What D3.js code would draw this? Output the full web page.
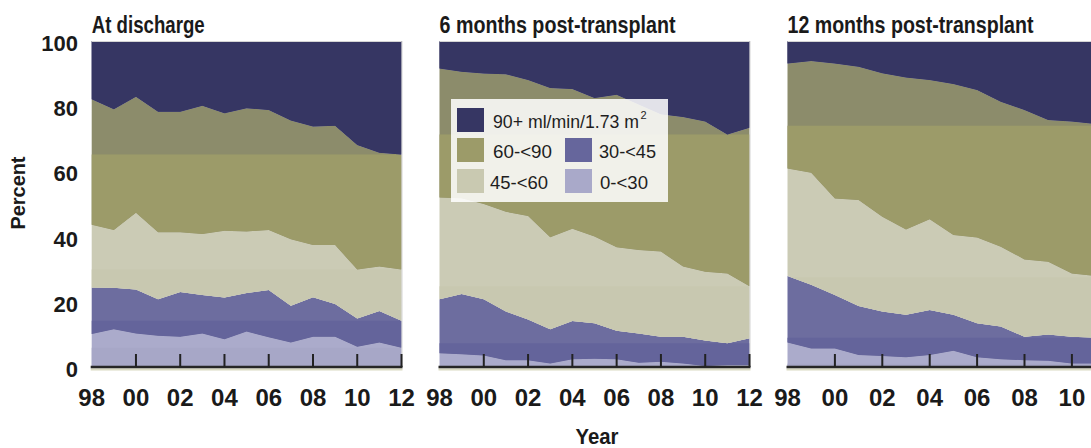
<!DOCTYPE html>
<html><head><meta charset="utf-8">
<script src="https://cdn.jsdelivr.net/npm/d3@7"></script>
<style>body{margin:0;background:#fff;overflow:hidden}svg{display:block}</style>
</head><body>
<svg id="c" width="1091" height="448"></svg>
<script>
// ---- data ----
const years = ['98','99','00','01','02','03','04','05','06','07','08','09','10','11','12'];
const tickYears = ['00','02','04','06','08','10','12'];
const labelYears = ['98','00','02','04','06','08','10','12'];
const yTicks = [0,20,40,60,80,100];
const seriesNames = ['0-<30','30-<45','45-<60','60-<90','90+'];
const panelTitles = ['At discharge','6 months post-transplant','12 months post-transplant'];

// At discharge (percent in each eGFR group)
const dis_0_30  = [10.1,11.6,10.3,9.6,9.3,10.3,8.5,10.9,9.1,7.5,9.3,9.3,6.2,7.5,5.9];
const dis_30_45 = [14.3,12.7,13.5,11.2,13.7,11.8,12.8,11.8,14.5,11.3,12.1,10.0,8.7,9.7,8.3];
const dis_45_60 = [19.2,17.7,23.5,20.5,18.3,18.7,20.5,18.9,18.4,20.4,16.0,18.1,15.0,13.6,15.7];
const dis_60_90 = [38.5,37.1,35.6,37.0,37.0,39.3,36.0,37.8,36.8,36.4,36.4,36.6,38.2,34.9,35.3];
const dis_90    = [17.9,20.9,17.1,21.7,21.7,19.9,22.2,20.6,21.2,24.4,26.2,26.0,31.9,34.3,34.8];

// 6 months post-transplant
const m6_0_30  = [4.2,3.9,3.5,2.1,2.1,1.1,2.4,2.5,2.4,1.3,1.6,1.1,0.3,0.6,0.6];
const m6_30_45 = [16.6,18.5,17.3,14.9,12.5,10.5,11.7,10.9,8.7,9.0,7.7,8.2,7.8,6.7,8.2];
const m6_45_60 = [31.2,29.4,29.2,30.6,31.7,28.2,28.3,26.6,25.6,25.6,26.1,21.5,21.1,21.4,16.0];
const m6_60_90 = [39.6,38.8,40.0,42.2,41.7,45.8,42.9,42.5,46.8,44.6,42.1,45.9,46.1,42.6,48.6];
const m6_90    = [8.4,9.4,10.0,10.2,12.0,14.4,14.7,17.5,16.5,19.5,22.5,23.3,24.7,28.7,26.6];

// 12 months post-transplant
const m12_0_30  = [7.5,5.7,5.7,3.7,3.4,3.0,3.7,5.0,3.0,2.4,2.1,1.9,1.1,1.1,1.0];
const m12_30_45 = [20.4,19.5,16.4,15.0,13.6,13.0,13.8,11.0,10.4,10.0,7.2,8.1,8.2,7.9,8.0];
const m12_45_60 = [33.0,34.4,29.6,32.5,29.1,26.2,27.8,24.5,26.3,24.5,23.7,22.3,19.4,18.9,18.5];
const m12_60_90 = [32.2,34.3,41.4,40.9,44.0,46.6,42.7,46.3,45.3,44.5,45.8,43.5,46.6,46.6,46.5];
const m12_90    = [6.9,6.1,6.9,7.9,9.9,11.2,12.0,13.2,15.0,18.6,21.2,24.2,24.7,25.5,26.0];

const panelSeries = [
  [dis_0_30, dis_30_45, dis_45_60, dis_60_90, dis_90],
  [m6_0_30, m6_30_45, m6_45_60, m6_60_90, m6_90],
  [m12_0_30, m12_30_45, m12_45_60, m12_60_90, m12_90]
];

// ---- styles / layout ----
const colUpper = ['#ababcb','#6d6d9f','#cbcbb5','#8c8c6b','#363663'];
const colLower = ['#a7a7c7','#64649b','#c8c8b0','#9c9b69','#363663'];
const legendColors = ['#a9a9c9','#66669c','#c9c9b1','#9c9b69','#363663'];
const panelX = [[91.7,401.5],[439.5,749.5],[787.5,1119.3]];
const titleLen = [113,236,246];
const W = 1091;
const Y0 = 367, Y100 = 41;
const boldFont = "'Liberation Sans', Arial, sans-serif";
const narrowFont = "'Liberation Sans Narrow','Arial Narrow','Liberation Sans',Arial,sans-serif";

const svg = d3.select('#c');
const y = d3.scaleLinear().domain([0,100]).range([Y0,Y100]);
const defs = svg.append('defs');

panelSeries.forEach((ser, p) => {
  const [x0, x1] = panelX[p];
  const x = d3.scalePoint().domain(years).range([x0, x1]).padding(0);
  const rows = years.map((yr, i) => {
    const r = {year: yr};
    seriesNames.forEach((s, k) => r[s] = ser[k][i]);
    return r;
  });
  const stacked = d3.stack().keys(seriesNames)(rows);
  const area = d3.area().x(d => x(d.data.year)).y0(d => y(d[0])).y1(d => y(d[1]));
  const g = svg.append('g');
  stacked.forEach((layer, k) => {
    const minTop = d3.min(layer, d => d[1]);
    const id = `clip-${p}-${k}`;
    defs.append('clipPath').attr('id', id).append('rect')
      .attr('x', x0 - 1).attr('y', y(minTop)).attr('width', x1 - x0 + 2).attr('height', y(0) - y(minTop) + 1);
    g.append('path').datum(layer).attr('d', area).attr('fill', colUpper[k]);
    g.append('path').datum(layer).attr('d', area).attr('fill', colLower[k]).attr('clip-path', `url(#${id})`);
  });
  // faint frame top & right
  g.append('line').attr('x1', x0).attr('x2', x1).attr('y1', Y100 + 0.5).attr('y2', Y100 + 0.5)
    .attr('stroke', '#d4d4d4').attr('stroke-width', 1);
  g.append('line').attr('x1', x1 + 0.5).attr('x2', x1 + 0.5).attr('y1', Y100).attr('y2', Y0)
    .attr('stroke', '#d4d4d4').attr('stroke-width', 1);
  // baseline
  g.append('line').attr('x1', x0 - 1).attr('x2', x1 + 1).attr('y1', Y0 + 2.3).attr('y2', Y0 + 2.3)
    .attr('stroke', '#d9d9c2').attr('stroke-width', 2.2);
  g.append('line').attr('x1', x0 - 1).attr('x2', x1 + 1).attr('y1', Y0).attr('y2', Y0)
    .attr('stroke', '#262626').attr('stroke-width', 2.4);
  // ticks (upward)
  g.selectAll('line.tk').data(tickYears).enter().append('line').attr('class', 'tk')
    .attr('x1', d => x(d)).attr('x2', d => x(d)).attr('y1', Y0).attr('y2', Y0 - 13)
    .attr('stroke', '#222').attr('stroke-width', 2);
  // tick labels (only those inside the visible page)
  g.selectAll('text.xl').data(labelYears.filter(d => x(d) + 14 <= W)).enter().append('text').attr('class', 'xl')
    .attr('x', d => x(d)).attr('y', 406).attr('text-anchor', 'middle')
    .attr('font-family', boldFont).attr('font-weight', 'bold').attr('font-size', 24)
    .attr('fill', '#1a1a1a').text(d => d);
  // title
  g.append('text').attr('x', x0).attr('y', 33)
    .attr('font-family', narrowFont).attr('font-weight', 'bold').attr('font-size', 23)
    .attr('textLength', titleLen[p]).attr('lengthAdjust', 'spacingAndGlyphs')
    .attr('fill', '#1a1a1a').text(panelTitles[p]);
});

// y-axis labels
svg.selectAll('text.yl').data(yTicks).enter().append('text').attr('class', 'yl')
  .attr('x', 78).attr('y', d => y(d) + 10).attr('text-anchor', 'end')
  .attr('font-family', boldFont).attr('font-weight', 'bold').attr('font-size', 22)
  .attr('fill', '#1a1a1a').text(d => d);

// axis titles
svg.append('text').attr('transform', 'translate(25,193) rotate(-90)').attr('text-anchor', 'middle')
  .attr('font-family', boldFont).attr('font-weight', 'bold').attr('font-size', 20)
  .attr('textLength', 73).attr('lengthAdjust', 'spacingAndGlyphs')
  .attr('fill', '#1a1a1a').text('Percent');
svg.append('text').attr('x', 597).attr('y', 444).attr('text-anchor', 'middle')
  .attr('font-family', narrowFont).attr('font-weight', 'bold').attr('font-size', 22)
  .attr('textLength', 43).attr('lengthAdjust', 'spacingAndGlyphs')
  .attr('fill', '#1a1a1a').text('Year');

// legend
const leg = svg.append('g');
leg.append('rect').attr('x', 451).attr('y', 99).attr('width', 217).attr('height', 103)
  .attr('fill', '#ffffff').attr('fill-opacity', 0.86);
const legItems = [
  {k: 4, sx: 457, sy: 108, tx: 493, ty: 127.5, len: 146},
  {k: 3, sx: 457, sy: 138, tx: 493, ty: 158, len: 59},
  {k: 2, sx: 457, sy: 169, tx: 490, ty: 188.5, len: 58},
  {k: 1, sx: 565, sy: 138, tx: 599, ty: 158, len: 57},
  {k: 0, sx: 565, sy: 169, tx: 600, ty: 188.5, len: 48}
];
const legLabels = ['0-<30','30-<45','45-<60','60-<90','90+ ml/min/1.73 m'];
legItems.forEach(it => {
  leg.append('rect').attr('x', it.sx).attr('y', it.sy).attr('width', 27).attr('height', 24)
    .attr('fill', legendColors[it.k]);
  const t = leg.append('text').attr('x', it.tx).attr('y', it.ty)
    .attr('font-family', "'Liberation Sans', Arial, sans-serif").attr('font-size', 19)
    .attr('fill', '#1e1e1e');
  t.append('tspan').attr('textLength', it.len).attr('lengthAdjust', 'spacingAndGlyphs')
    .text(legLabels[it.k]);
  if (it.k === 4) {
    t.append('tspan').attr('dx', 1.5).attr('dy', -8.5).attr('font-size', 11).text('2');
  }
});
</script>
</body></html>
